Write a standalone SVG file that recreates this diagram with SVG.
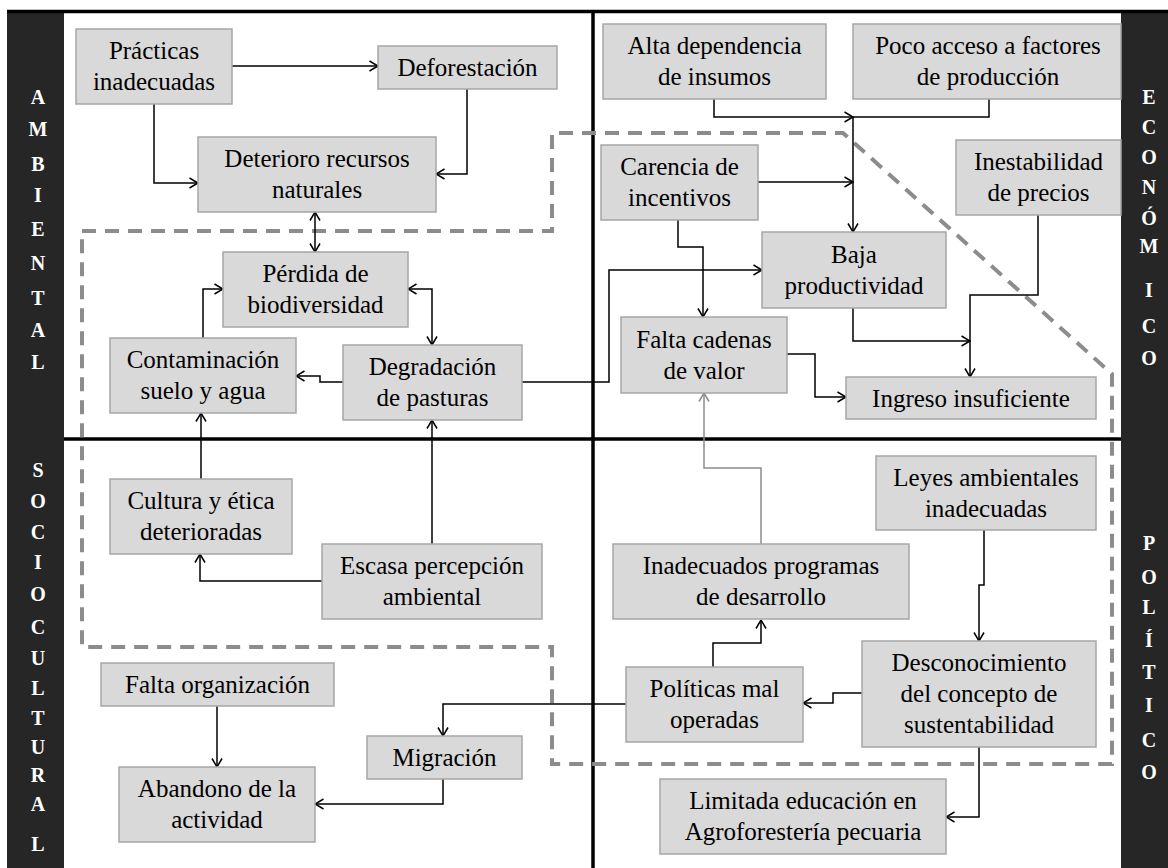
<svg xmlns="http://www.w3.org/2000/svg" width="1168" height="868" viewBox="0 0 1168 868">
  <style>
    .box { fill: #d9d9d9; stroke: #a6a6a6; stroke-width: 1.5; }
    .t { font-family: "Liberation Serif", "Times New Roman", serif; font-size: 25px; text-anchor: middle; fill: #000; }
    .band { fill: #262626; }
    .bl { font-family: "Liberation Serif", "Times New Roman", serif; font-size: 20px; font-weight: bold; text-anchor: middle; fill: #fff; }
    .div { stroke: #000; stroke-width: 3.5; fill: none; }
    .c { fill: none; stroke: #000; stroke-width: 1.5; marker-end: url(#ah); }
    .cg { fill: none; stroke: #8c8c8c; stroke-width: 1.5; marker-end: url(#ahg); }
    .bi { marker-start: url(#ah); }
    .zone { fill: none; stroke: #8c8c8c; stroke-width: 4; stroke-dasharray: 14 9; }
  </style>
  <defs>
    <marker id="ah" viewBox="0 0 10 12" refX="9.5" refY="6" markerWidth="10" markerHeight="12" markerUnits="userSpaceOnUse" orient="auto-start-reverse">
      <path d="M1,1 L9.5,6 L1,11" fill="none" stroke="#000" stroke-width="1.5"/>
    </marker>
    <marker id="ahg" viewBox="0 0 10 12" refX="9.5" refY="6" markerWidth="10" markerHeight="12" markerUnits="userSpaceOnUse" orient="auto-start-reverse">
      <path d="M1,1 L9.5,6 L1,11" fill="none" stroke="#8c8c8c" stroke-width="1.5"/>
    </marker>
  </defs>

  <rect width="1168" height="868" fill="#fff"/>

  <!-- side bands with dimension labels -->
  <g id="bands">
    <rect class="band" x="7" y="10" width="57" height="858"/>
    <rect class="band" x="1121" y="10" width="47" height="858"/>
    <g class="bl">
      <text x="38" y="104">A</text>
      <text x="38" y="136">M</text>
      <text x="38" y="171">B</text>
      <text x="38" y="202">I</text>
      <text x="38" y="236">E</text>
      <text x="38" y="270">N</text>
      <text x="38" y="305">T</text>
      <text x="38" y="337">A</text>
      <text x="38" y="369">L</text>

      <text x="38" y="477">S</text>
      <text x="38" y="508">O</text>
      <text x="38" y="539">C</text>
      <text x="38" y="569">I</text>
      <text x="38" y="601">O</text>
      <text x="38" y="634">C</text>
      <text x="38" y="665">U</text>
      <text x="38" y="695">L</text>
      <text x="38" y="725">T</text>
      <text x="38" y="754">U</text>
      <text x="38" y="782">R</text>
      <text x="38" y="811">A</text>
      <text x="38" y="851">L</text>

      <text x="1149" y="104">E</text>
      <text x="1149" y="134">C</text>
      <text x="1149" y="164">O</text>
      <text x="1149" y="194">N</text>
      <text x="1149" y="225">Ó</text>
      <text x="1149" y="253">M</text>
      <text x="1149" y="297">I</text>
      <text x="1149" y="333">C</text>
      <text x="1149" y="365">O</text>

      <text x="1149" y="550">P</text>
      <text x="1149" y="584">O</text>
      <text x="1149" y="614">L</text>
      <text x="1149" y="647">Í</text>
      <text x="1149" y="679">T</text>
      <text x="1149" y="712">I</text>
      <text x="1149" y="747">C</text>
      <text x="1149" y="779">O</text>
    </g>
  </g>

  <!-- quadrant dividers -->
  <g id="dividers">
    <line class="div" x1="7" y1="11.5" x2="1168" y2="11.5"/>
    <line class="div" x1="593" y1="12" x2="593" y2="868"/>
    <line class="div" x1="64" y1="439" x2="1121" y2="439"/>
  </g>

  <!-- dashed core-problem zone -->
  <polygon id="zone" class="zone" points="82,231 552,231 552,133 843,133 1112,374 1112,764 552,764 552,647 82,647"/>

  <!-- connectors -->
  <g id="connectors">
    <path class="c" d="M232,66 H378"/>
    <path class="c" d="M154,104 V183 H198"/>
    <path class="c" d="M467,89 V174 H436"/>
    <path class="c bi" d="M315,212 V252"/>
    <path class="c" d="M203,338 V289 H223"/>
    <path class="c bi" d="M408,289 H432 V345"/>
    <path class="c" d="M343,382 H320 V376 H296"/>
    <path class="c" d="M522,382 H609 V270 H762"/>
    <path class="c" d="M201,479 V413"/>
    <path class="c" d="M322,581 H200 V554"/>
    <path class="c" d="M432,544 V420"/>
    <path class="c" d="M217,706 V767"/>
    <path class="c" d="M443,779 V804 H315"/>
    <path class="c" d="M626,704 H443 V736"/>
    <path class="c" d="M714,99 V117 H853"/>
    <path class="c" d="M989,99 V117 H853 V232"/>
    <path class="c" d="M758,182 H853"/>
    <path class="c" d="M678,220 V247 H703 V317"/>
    <path class="c" d="M787,354 H815 V397 H846"/>
    <path class="c" d="M1038,215 V295 H970 V377"/>
    <path class="c" d="M853,308 V341 H970"/>
    <path class="cg" d="M761,544 V468 H704 V393"/>
    <path class="c" d="M713,667 V643 H761 V620"/>
    <path class="c" d="M984,530 V585 H979 V641"/>
    <path class="c" d="M862,693 H833 V703 H803"/>
    <path class="c" d="M979,747 V817 H946"/>
  </g>

  <!-- ambiental -->
  <g id="practicas-inadecuadas">
    <rect class="box" x="76" y="29" width="156" height="75"/>
    <text class="t" x="154" y="59">Prácticas</text>
    <text class="t" x="154" y="90">inadecuadas</text>
  </g>
  <g id="deforestacion">
    <rect class="box" x="378" y="46" width="179" height="43"/>
    <text class="t" x="467.5" y="76">Deforestación</text>
  </g>
  <g id="deterioro-recursos">
    <rect class="box" x="198" y="137" width="238" height="75"/>
    <text class="t" x="317" y="167">Deterioro recursos</text>
    <text class="t" x="317" y="198">naturales</text>
  </g>
  <g id="perdida-biodiversidad">
    <rect class="box" x="223" y="252" width="185" height="75"/>
    <text class="t" x="315.5" y="282">Pérdida de</text>
    <text class="t" x="315.5" y="313">biodiversidad</text>
  </g>
  <g id="contaminacion">
    <rect class="box" x="110" y="338" width="186" height="75"/>
    <text class="t" x="203" y="368">Contaminación</text>
    <text class="t" x="203" y="399">suelo y agua</text>
  </g>
  <g id="degradacion-pasturas">
    <rect class="box" x="343" y="345" width="179" height="75"/>
    <text class="t" x="432.5" y="375">Degradación</text>
    <text class="t" x="432.5" y="406">de pasturas</text>
  </g>

  <!-- sociocultural -->
  <g id="cultura-etica">
    <rect class="box" x="110" y="479" width="182" height="75"/>
    <text class="t" x="201" y="509">Cultura y ética</text>
    <text class="t" x="201" y="540">deterioradas</text>
  </g>
  <g id="escasa-percepcion">
    <rect class="box" x="322" y="544" width="220" height="75"/>
    <text class="t" x="432" y="574">Escasa percepción</text>
    <text class="t" x="432" y="605">ambiental</text>
  </g>
  <g id="falta-organizacion">
    <rect class="box" x="101" y="663" width="233" height="43"/>
    <text class="t" x="217.5" y="693">Falta organización</text>
  </g>
  <g id="abandono-actividad">
    <rect class="box" x="119" y="767" width="196" height="75"/>
    <text class="t" x="217" y="797">Abandono de la</text>
    <text class="t" x="217" y="828">actividad</text>
  </g>
  <g id="migracion">
    <rect class="box" x="367" y="736" width="155" height="43"/>
    <text class="t" x="444.5" y="766">Migración</text>
  </g>

  <!-- economico -->
  <g id="alta-dependencia">
    <rect class="box" x="603" y="24" width="223" height="75"/>
    <text class="t" x="714.5" y="54">Alta dependencia</text>
    <text class="t" x="714.5" y="85">de insumos</text>
  </g>
  <g id="poco-acceso">
    <rect class="box" x="853" y="24" width="268" height="75"/>
    <text class="t" x="988" y="54">Poco acceso a factores</text>
    <text class="t" x="988" y="85">de producción</text>
  </g>
  <g id="carencia-incentivos">
    <rect class="box" x="601" y="145" width="157" height="75"/>
    <text class="t" x="679.5" y="175">Carencia de</text>
    <text class="t" x="679.5" y="206">incentivos</text>
  </g>
  <g id="inestabilidad-precios">
    <rect class="box" x="956" y="140" width="165" height="75"/>
    <text class="t" x="1038.5" y="170">Inestabilidad</text>
    <text class="t" x="1038.5" y="201">de precios</text>
  </g>
  <g id="baja-productividad">
    <rect class="box" x="762" y="232" width="184" height="76"/>
    <text class="t" x="854" y="263">Baja</text>
    <text class="t" x="854" y="294">productividad</text>
  </g>
  <g id="falta-cadenas">
    <rect class="box" x="621" y="317" width="166" height="76"/>
    <text class="t" x="704" y="348">Falta cadenas</text>
    <text class="t" x="704" y="379">de valor</text>
  </g>
  <g id="ingreso-insuficiente">
    <rect class="box" x="846" y="377" width="250" height="42"/>
    <text class="t" x="971" y="406.5">Ingreso insuficiente</text>
  </g>

  <!-- politico -->
  <g id="leyes-ambientales">
    <rect class="box" x="876" y="456" width="220" height="74"/>
    <text class="t" x="986" y="486">Leyes ambientales</text>
    <text class="t" x="986" y="517">inadecuadas</text>
  </g>
  <g id="inadecuados-programas">
    <rect class="box" x="613" y="544" width="296" height="75"/>
    <text class="t" x="761" y="574">Inadecuados programas</text>
    <text class="t" x="761" y="605">de desarrollo</text>
  </g>
  <g id="politicas-mal-operadas">
    <rect class="box" x="626" y="667" width="177" height="75"/>
    <text class="t" x="714.5" y="697">Políticas mal</text>
    <text class="t" x="714.5" y="728">operadas</text>
  </g>
  <g id="desconocimiento-sustentabilidad">
    <rect class="box" x="862" y="641" width="234" height="106"/>
    <text class="t" x="979" y="671">Desconocimiento</text>
    <text class="t" x="979" y="702">del concepto de</text>
    <text class="t" x="979" y="733">sustentabilidad</text>
  </g>
  <g id="limitada-educacion">
    <rect class="box" x="660" y="779" width="286" height="75"/>
    <text class="t" x="803" y="809">Limitada educación en</text>
    <text class="t" x="803" y="840">Agroforestería pecuaria</text>
  </g>
</svg>
